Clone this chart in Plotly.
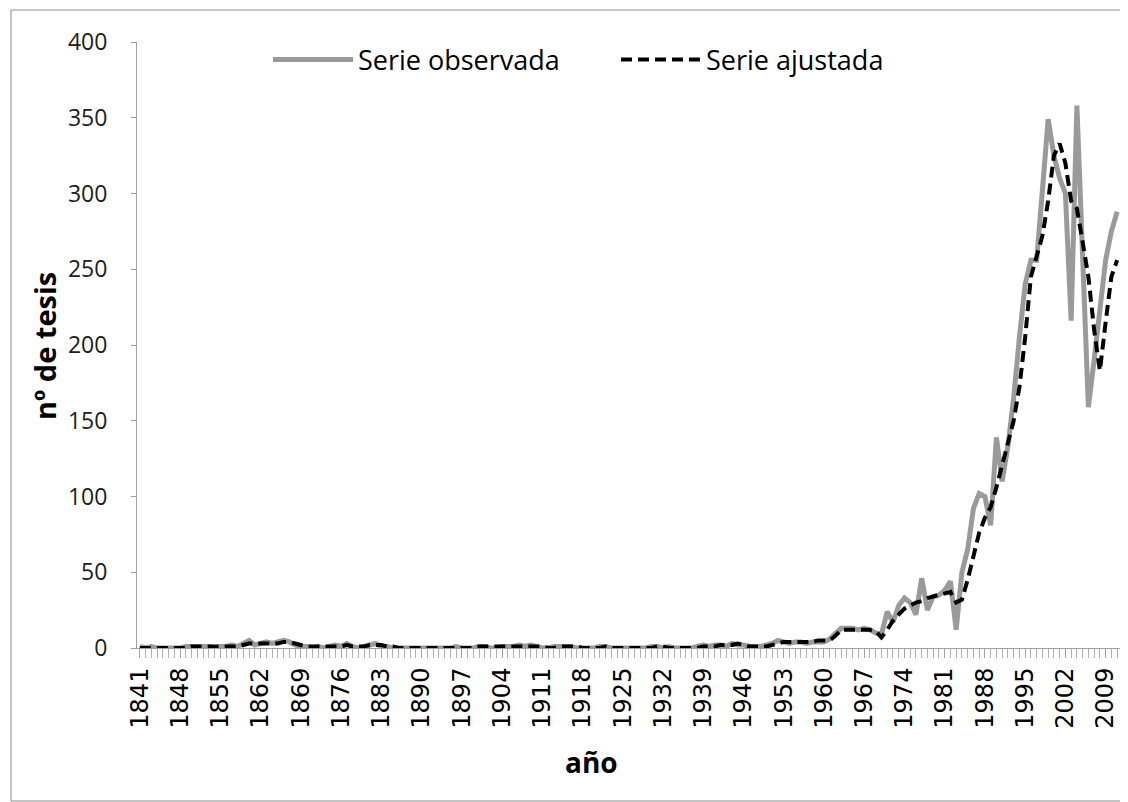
import plotly.graph_objects as go

years = list(range(1841, 2012))

observed = [
    # 1841-1860
    1, 0, 1, 0, 0, 0, 0, 0, 1, 1, 1, 1, 1, 0, 1, 1, 2, 1, 3, 5,
    # 1861-1880
    2, 3, 4, 3, 4, 5, 4, 2, 1, 1, 0, 1, 0, 1, 2, 1, 3, 1, 0, 1,
    # 1881-1900
    2, 3, 1, 1, 0, 0, 0, 0, 0, 0, 0, 0, 0, 0, 0, 1, 0, 0, 0, 1,
    # 1901-1920
    1, 0, 0, 1, 1, 1, 2, 1, 2, 1, 0, 0, 1, 1, 1, 1, 0, 0, 0, 0,
    # 1921-1940
    1, 1, 0, 0, 0, 0, 0, 0, 0, 1, 1, 0, 1, 0, 0, 0, 0, 1, 2, 1,
    # 1941-1960
    2, 2, 1, 3, 2, 2, 1, 1, 1, 2, 3, 5, 4, 3, 4, 4, 3, 4, 4, 4,
    # 1961-1980
    6, 10, 13, 13, 13, 12, 13, 12, 10, 9, 24, 17, 28, 33, 30, 22, 46, 25, 34, 35,
    # 1981-2000
    38, 44, 12, 50, 65, 92, 102, 100, 81, 139, 110, 133, 165, 205, 240, 256, 256, 302, 349, 325,
    # 2001-2011
    310, 300, 216, 358, 255, 159, 190, 225, 256, 275, 288,
]

fitted = [
    # 1841-1860
    0, 0, 0, 0, 0, 0, 0, 0, 0, 1, 1, 1, 1, 1, 1, 1, 1, 1, 2, 3,
    # 1861-1880
    3, 3, 3, 3, 3, 4, 4, 3, 2, 1, 1, 1, 1, 1, 1, 1, 2, 1, 1, 1,
    # 1881-1900
    2, 2, 2, 1, 1, 0, 0, 0, 0, 0, 0, 0, 0, 0, 0, 0, 0, 0, 0, 1,
    # 1901-1920
    1, 1, 1, 1, 1, 1, 1, 1, 1, 1, 1, 0, 0, 1, 1, 1, 1, 0, 0, 0,
    # 1921-1940
    0, 1, 0, 0, 0, 0, 0, 0, 0, 0, 1, 1, 0, 0, 0, 0, 0, 0, 1, 1,
    # 1941-1960
    1, 2, 2, 2, 3, 2, 1, 1, 1, 1, 2, 3, 4, 4, 4, 4, 4, 4, 5, 5,
    # 1961-1980
    5, 8, 12, 12, 12, 12, 12, 12, 11, 7, 12, 18, 22, 26, 28, 30, 31, 33, 34, 35,
    # 1981-2000
    36, 37, 30, 32, 45, 60, 76, 86, 93, 106, 120, 134, 150, 172, 205, 245, 258, 272, 295, 325,
    # 2001-2011
    333, 320, 295, 290, 268, 245, 210, 183, 215, 245, 256,
]

tick_years = list(range(1841, 2012, 7))

fig = go.Figure()
fig.add_trace(go.Scatter(
    x=years, y=observed, mode="lines", name="Serie observada",
    line=dict(color="#9a9a9a", width=5),
))
fig.add_trace(go.Scatter(
    x=years, y=fitted, mode="lines", name="Serie ajustada",
    line=dict(color="#000000", width=4, dash="11px,6px"),
))

# page body has an 8px margin; figure is placed at (8, 8)
OFF = 8
W, H = 1128 - OFF, 802 - OFF
L, T = 137 - OFF, 42 - OFF
pw, ph = 983, 606
R = W - L - pw
B = H - T - ph


def px(xabs):
    return (xabs - OFF - L) / pw


def py(yabs):
    return (T + ph - (yabs - OFF)) / ph


fig.update_layout(
    width=W, height=H,
    margin=dict(l=L, r=R, t=T, b=B, pad=0),
    paper_bgcolor="white", plot_bgcolor="white",
    font=dict(family="Open Sans, sans-serif", color="#000000"),
    showlegend=True,
    legend=dict(
        orientation="h", x=px(268), y=py(60),
        xanchor="left", yanchor="middle",
        font=dict(size=27, family="Open Sans, sans-serif", color="#000000"),
        itemwidth=80, bgcolor="rgba(0,0,0,0)",
        entrywidth=253, entrywidthmode="pixels",
    ),
    xaxis=dict(
        range=[1840.5, 2011.5],
        tickmode="array", tickvals=tick_years, ticktext=[str(y) for y in tick_years],
        tickangle=-90,
        ticks="outside", ticklen=9, tickcolor="#a0a0a0", tickwidth=1,
        minor=dict(dtick=1, tick0=1841, ticks="outside", ticklen=9, tickcolor="#b0b0b0", tickwidth=1),
        showline=True, linecolor="#a0a0a0", linewidth=1,
        showgrid=False, zeroline=False,
        tickfont=dict(size=24, family="DejaVu Sans, sans-serif", color="#000000"),
    ),
    yaxis=dict(
        range=[0, 400], dtick=50, tick0=0,
        ticks="outside", ticklen=5, tickcolor="#a0a0a0",
        showline=True, linecolor="#a0a0a0", linewidth=1,
        showgrid=False, zeroline=False,
        tickfont=dict(size=23, family="Open Sans, sans-serif", color="#202020"),
        ticklabelstandoff=19,
    ),
    annotations=[
        dict(text="<b>año</b>", xref="paper", yref="paper", x=px(591), y=py(762),
             xanchor="center", yanchor="middle", showarrow=False,
             font=dict(size=28, family="Open Sans, sans-serif", color="#000000")),
        dict(text="<b>nº de tesis</b>", xref="paper", yref="paper", x=px(44), y=py(346),
             xanchor="center", yanchor="middle", showarrow=False, textangle=-90,
             font=dict(size=29, family="Open Sans, sans-serif", color="#000000")),
    ],
    shapes=[dict(
        type="rect", xref="paper", yref="paper",
        x0=px(11), x1=px(1127),
        y0=py(801), y1=py(10),
        line=dict(color="#8a8a8a", width=1), fillcolor="rgba(0,0,0,0)", layer="below",
    )],
)

fig.write_html("out.html")
